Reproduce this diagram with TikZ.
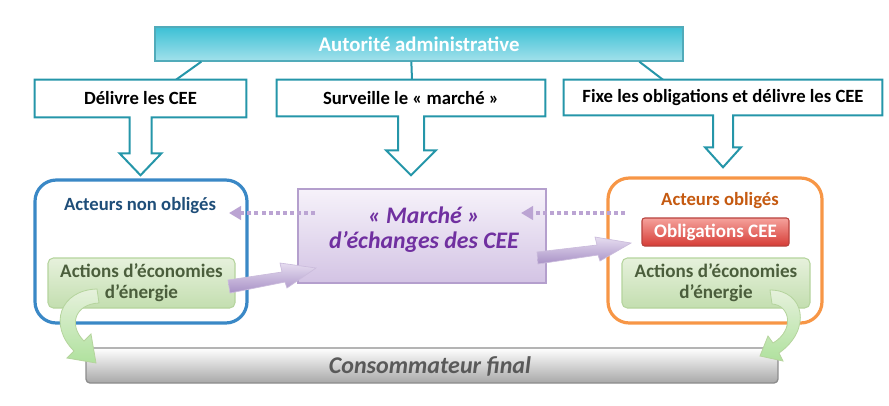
\documentclass[tikz,border=0pt]{standalone}
\usepackage{fontspec}
\setmainfont{Carlito}
\usetikzlibrary{calc,arrows.meta}
\definecolor{tealline}{HTML}{2596A9}
\definecolor{tealfill}{HTML}{17B5CE}
\definecolor{tealtop}{HTML}{3CC0D5}
\definecolor{tealbot}{HTML}{A2E1EB}
\definecolor{bluebox}{HTML}{3A88C6}
\definecolor{orangebox}{HTML}{F79646}
\definecolor{darkblue}{HTML}{1F4E79}
\definecolor{darkorange}{HTML}{C55A11}
\definecolor{greentop}{HTML}{E6F1DC}
\definecolor{greenbot}{HTML}{C3DEAF}
\definecolor{greenline}{HTML}{B5D49D}
\definecolor{greentext}{HTML}{4B5E3C}
\definecolor{purpletext}{HTML}{7030A0}
\definecolor{purpletop}{HTML}{F6F2FA}
\definecolor{purplebot}{HTML}{D3C3E4}
\definecolor{purpleline}{HTML}{B49FCD}
\definecolor{purplearrtop}{HTML}{E6DDF0}
\definecolor{purplearrbot}{HTML}{A891C6}
\definecolor{dotpurple}{HTML}{BBA4D3}
\definecolor{redtop}{HTML}{F5A29C}
\definecolor{redbot}{HTML}{D63C36}
\definecolor{redline}{HTML}{B8423D}
\definecolor{graytext}{HTML}{595959}
\definecolor{grayline}{HTML}{8C8C8C}
\definecolor{graybot}{HTML}{A8A8A8}
\newcommand\mycallout[5]{%
  \draw[calloutline] (#1.north west) -- (#1.north east) -- (#1.south east)
    -- ($(#1.south)+(#2,0)$) -- ($(#1.south)+(#2,#4)$) -- ($(#1.south)+(#3,#4)$)
    -- ($(#1.south)+(0,#5)$) -- ($(#1.south)+(-#3,#4)$) -- ($(#1.south)+(-#2,#4)$)
    -- ($(#1.south)+(-#2,0)$) -- (#1.south west) -- cycle;}
\begin{document}
\begin{tikzpicture}[x=0.75pt,y=-0.75pt,
  calloutline/.style={draw=tealline,line width=1.5pt,fill=white,line join=miter},
  callouttext/.style={font=\fontsize{14}{16}\selectfont\bfseries,text=black,inner sep=0pt},
  autobox/.style={draw=tealline!80,line width=1pt,top color=tealtop,middle color=tealfill,bottom color=tealbot,
     text=white,font=\fontsize{15.6}{17}\selectfont\bfseries,inner sep=0pt},
  link/.style={draw=tealline,line width=1.5pt},
  actorbox/.style={line width=2.4pt,rounded corners=16pt,fill=white,inner sep=0pt},
  actortitle/.style={font=\fontsize{14}{16}\selectfont\bfseries,inner sep=0pt},
  greenbox/.style={draw=greenline,line width=0.8pt,top color=greentop,bottom color=greenbot,rounded corners=4pt,
     text=greentext,align=center,font=\fontsize{14.3}{15.75}\selectfont\bfseries,inner sep=0pt},
  redbox/.style={draw=redline,line width=0.8pt,top color=redtop,bottom color=redbot,rounded corners=2pt,
     text=white,font=\fontsize{14.3}{16}\selectfont\bfseries,inner sep=0pt},
  marketbox/.style={draw=purpleline,line width=1.4pt,top color=purpletop,bottom color=purplebot,inner sep=0pt},
  markettext/.style={text=purpletext,align=center,font=\fontsize{17.8}{18.8}\selectfont\bfseries\itshape,inner sep=0pt},
  consbox/.style={draw=grayline,line width=1pt,top color=white,bottom color=graybot,rounded corners=3pt,inner sep=0pt},
  consfont/.style={text=graytext,font=\fontsize{18}{20}\selectfont\bfseries\itshape,inner sep=0pt},
  greenarrow/.style={draw=greenline,line width=0.6pt,top color=greentop,bottom color=greenbot!90!green},
  blockarrow/.style={draw=purpleline!70,line width=0.5pt,top color=purplearrtop,bottom color=purplearrbot},
  dotarrow/.style={draw=dotpurple,line width=2.8pt,dash pattern=on 3pt off 2.3pt,line cap=butt,
     -{Triangle[length=9pt,width=10pt]}}]
\useasboundingbox (0,0) rectangle (889,405);

% top authority bar and callouts
\node[autobox,minimum width=396pt,minimum height=25.5pt] (aut) at (419,44) {Autorité administrative};
\node[callouttext,minimum width=158.25pt,minimum height=27.75pt] (del) at (140.5,98.5) {};
\node[callouttext,minimum width=201pt,minimum height=27pt] (surv) at (411,98) {};
\node[callouttext,minimum width=238.5pt,minimum height=26.25pt] (fixe) at (723,97.5) {};
\draw[link] ($(aut.south west)+(47,0)$) -- ($(del.north)+(35.5,0)$);
\draw[link] ($(aut.south west)+(257,0)$) -- ($(surv.north)+(1,0)$);
\draw[link] ($(aut.south west)+(485,0)$) -- ($(fixe.north)+(-60,0)$);
\mycallout{del}{11}{21}{36}{58}
\mycallout{surv}{13}{25}{34}{59}
\mycallout{fixe}{10}{18}{32}{52}
\node[callouttext] at (del) {Délivre les CEE};
\node[callouttext] at (surv) {Surveille le « marché »};
\node[callouttext] at (fixe) {Fixe les obligations et délivre les CEE};

% actor boxes
\node[actorbox,draw=bluebox,minimum width=159pt,minimum height=107.25pt] (nono) at (141,251.5) {};
\node[actorbox,draw=orangebox,minimum width=160.5pt,minimum height=108.75pt] (obl) at (715,250.5) {};
\node[actortitle,text=darkblue] (nonoT) at (140,206) {Acteurs non obligés};
\node[actortitle,text=darkorange] (oblT) at (720,201) {Acteurs obligés};
\node[greenbox,minimum width=140.25pt,minimum height=37.5pt] (gl) at (141.5,283) {Actions d’économies\\d’énergie};
\node[greenbox,minimum width=141pt,minimum height=37.5pt] (gr) at (716,283) {Actions d’économies\\d’énergie};
\node[redbox,minimum width=110.25pt,minimum height=21pt] (oc) at (715.5,232) {Obligations CEE};

% market
\node[marketbox,minimum width=186pt,minimum height=70.5pt] (mar) at (422,236) {};
\node[markettext] (marT) at (424,229.5) {« Marché »\\d’échanges des CEE};

% final consumer
\node[consbox,minimum width=519pt,minimum height=26.25pt] (cons) at (432,365.5) {};
\node[consfont] (consT) at (430,366) {Consommateur final};

% green curved arrows
\draw[greenarrow] (97,289) .. controls (60,290) and (48,325) .. (74,351) -- (67,358) -- (96,363)
   -- (91,334) -- (84,341) .. controls (68,325) and (75,304) .. (99,303) -- cycle;
\draw[greenarrow] (770,290) .. controls (805,290) and (812,330) .. (779,353) -- (783,361) -- (760,356)
   -- (768,336) -- (773,343) .. controls (795,330) and (790,305) .. (772,304) -- cycle;

% purple block arrows
\draw[blockarrow] (228,280) -- (282,272) -- (280,263) -- (316,268) -- (287,288) -- (285,282) -- (230,293) -- cycle;
\draw[blockarrow] (537,252) -- (597,245) -- (595,237) -- (631,243) -- (600,261) -- (598,255) -- (538,264) -- cycle;

% dotted arrows
\coordinate (d1s) at (315,213);
\coordinate (d1e) at (229,213);
\coordinate (d2s) at (625,213);
\coordinate (d2e) at (521,213);
\draw[dotarrow] (d1s) -- (d1e);
\draw[dotarrow] (d2s) -- (d2e);
\end{tikzpicture}
\end{document}
